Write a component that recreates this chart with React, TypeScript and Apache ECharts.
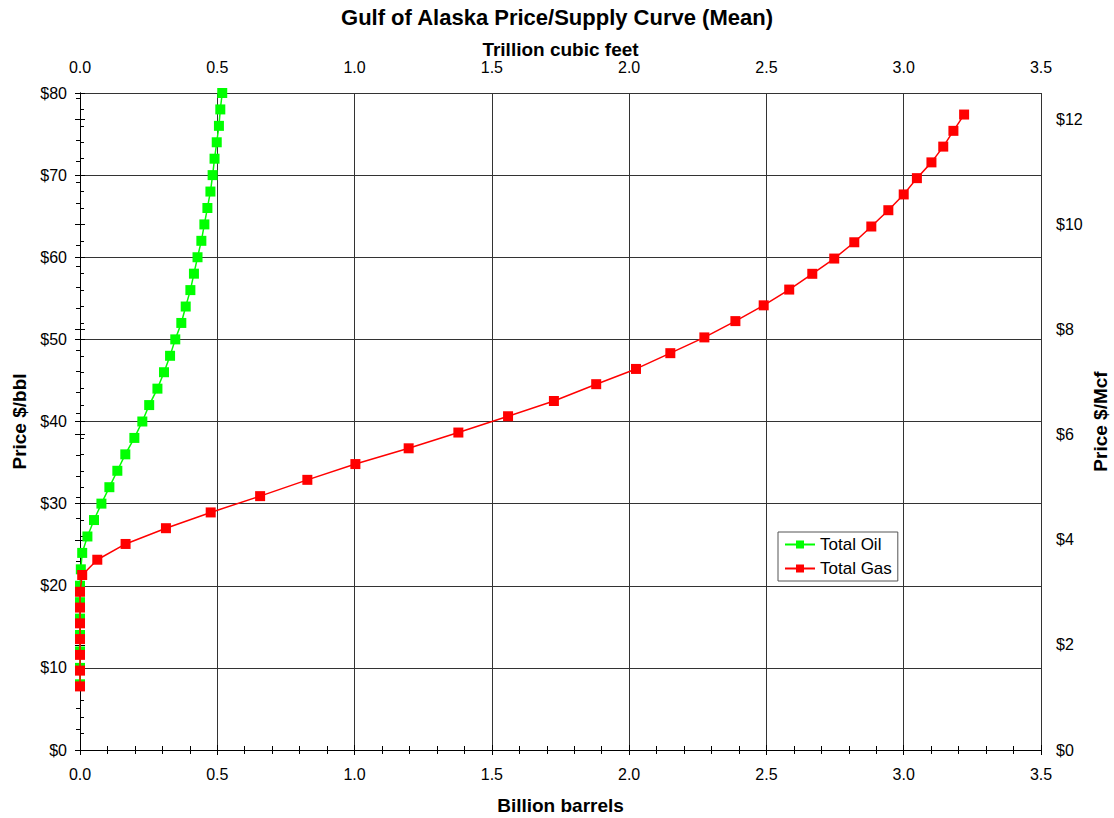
import React, { useEffect, useRef } from "react";
import * as echarts from "echarts";

const oilPrice = [8, 10, 12, 14, 16, 18, 20, 22, 24, 26, 28, 30, 32, 34, 36, 38, 40, 42, 44, 46, 48, 50, 52, 54, 56, 58, 60, 62, 64, 66, 68, 70, 72, 74, 76, 78, 80];
const oilVolume = [0, 0, 0, 0, 0, 0, 0, 0.003, 0.008, 0.027, 0.051, 0.078, 0.107, 0.136, 0.165, 0.198, 0.227, 0.252, 0.282, 0.306, 0.328, 0.347, 0.369, 0.385, 0.402, 0.415, 0.428, 0.442, 0.453, 0.464, 0.475, 0.483, 0.49, 0.498, 0.506, 0.511, 0.518];

const gasPrice = [1.21, 1.51, 1.81, 2.11, 2.41, 2.71, 3.01, 3.33, 3.62, 3.92, 4.22, 4.52, 4.83, 5.14, 5.44, 5.74, 6.04, 6.35, 6.64, 6.96, 7.25, 7.55, 7.85, 8.16, 8.46, 8.76, 9.06, 9.35, 9.66, 9.96, 10.27, 10.57, 10.88, 11.18, 11.48, 11.78, 12.09];
const gasVolume = [0, 0, 0, 0, 0, 0, 0, 0.008, 0.063, 0.166, 0.313, 0.476, 0.656, 0.828, 1.003, 1.197, 1.378, 1.559, 1.726, 1.88, 2.025, 2.15, 2.274, 2.387, 2.49, 2.583, 2.667, 2.747, 2.82, 2.882, 2.944, 3.0, 3.048, 3.101, 3.144, 3.181, 3.22];

const FONT = "Liberation Sans, Arial, sans-serif";

export default function App() {
  const ref = useRef<HTMLDivElement>(null);
  useEffect(() => {
    if (!ref.current) return;
    const chart = echarts.init(ref.current, undefined, { renderer: "svg" });
    const axisLine = { show: true, lineStyle: { color: "#000", width: 1 } };
    const lbl = { color: "#000", fontSize: 16, fontFamily: FONT };
    const nameStyle = { color: "#000", fontSize: 19, fontWeight: "bold" as const, fontFamily: FONT };
    const xCommon = {
      type: "value" as const,
      min: 0,
      max: 3.5,
      interval: 0.5,
      axisLine,
      axisTick: { show: true, inside: true, length: 5, lineStyle: { color: "#000" } },
      minorTick: { show: true, splitNumber: 5, length: 4, lineStyle: { color: "#000" } },
      nameLocation: "middle" as const,
      nameMoveOverlap: false,
      nameTextStyle: nameStyle,
    };
    const overlayTick = {
      axisLine: { show: false },
      axisTick: { show: true, inside: false, length: 5, lineStyle: { color: "#000" } },
      axisLabel: { show: false },
      splitLine: { show: false },
    };
    chart.setOption({
      animation: false,
      backgroundColor: "#fff",
      title: {
        text: "Gulf of Alaska Price/Supply Curve (Mean)",
        left: "center",
        top: 1,
        textStyle: { fontSize: 22, fontWeight: "bold", fontFamily: FONT, color: "#000" },
      },
      grid: { left: 80, right: 73, top: 93, bottom: 68, containLabel: false, outerBoundsMode: "none" },
      legend: {
        orient: "vertical",
        left: 778,
        top: 532,
        padding: [4, 6, 4, 6],
        itemGap: 7,
        itemWidth: 30,
        itemHeight: 10,
        backgroundColor: "#fff",
        borderColor: "#555",
        borderWidth: 1,
        borderRadius: 0,
        textStyle: { fontSize: 17, fontFamily: FONT, color: "#000" },
        data: ["Total Oil", "Total Gas"],
      },
      xAxis: [
        {
          ...xCommon,
          position: "bottom",
          name: "Billion barrels",
          nameGap: 46,
          axisLabel: { ...lbl, margin: 16, formatter: (v: number) => v.toFixed(1) },
          splitLine: { show: true, lineStyle: { color: "#333", width: 1 } },
        },
        {
          ...xCommon,
          position: "top",
          name: "Trillion cubic feet",
          nameGap: 34,
          axisLabel: { ...lbl, margin: 18, formatter: (v: number) => v.toFixed(1) },
          splitLine: { show: false },
        },
        { type: "value", min: 0, max: 3.5, interval: 0.5, position: "bottom", ...overlayTick },
        { type: "value", min: 0, max: 3.5, interval: 0.5, position: "top", ...overlayTick },
      ],
      yAxis: [
        {
          type: "value",
          position: "left",
          min: 0,
          max: 80,
          interval: 10,
          axisLine,
          axisTick: { show: true, inside: true, length: 5, lineStyle: { color: "#000" } },
          minorTick: { show: true, splitNumber: 5, length: 4, lineStyle: { color: "#000" } },
          axisLabel: { ...lbl, margin: 13, formatter: (v: number) => "$" + v },
          splitLine: { show: true, lineStyle: { color: "#333", width: 1 } },
          name: "Price $/bbl",
          nameLocation: "middle",
          nameMoveOverlap: false,
          nameGap: 51,
          nameTextStyle: nameStyle,
        },
        {
          type: "value",
          position: "right",
          min: 0,
          max: 12.5,
          interval: 2,
          axisLine,
          axisTick: { show: true, inside: true, length: 5, lineStyle: { color: "#000" } },
          minorTick: { show: true, splitNumber: 5, length: 4, lineStyle: { color: "#000" } },
          axisLabel: {
            ...lbl,
            margin: 15,
            showMaxLabel: false,
            formatter: (v: number) => (Math.abs(v % 2) < 1e-9 ? "$" + v : ""),
          },
          splitLine: { show: false },
          name: "Price $/Mcf",
          nameLocation: "middle",
          nameMoveOverlap: false,
          nameGap: 50,
          nameTextStyle: nameStyle,
        },
        { type: "value", min: 0, max: 80, interval: 10, position: "left", ...overlayTick },
        {
          type: "value",
          min: 0,
          max: 12.5,
          interval: 2,
          position: "right",
          ...overlayTick,
          axisTick: {
            show: true,
            inside: false,
            length: 5,
            lineStyle: { color: "#000" },
            interval: (i: number, v: any) => Number(v) % 2 === 0,
          },
        },
      ],
      series: [
        {
          name: "Total Oil",
          type: "line",
          xAxisIndex: 0,
          yAxisIndex: 0,
          data: oilVolume.map((v, i) => [v, oilPrice[i]]),
          symbol: "rect",
          symbolSize: 10,
          color: "#00ff00",
          lineStyle: { width: 1.5, color: "#00ff00" },
          itemStyle: { color: "#00ff00" },
          z: 3,
        },
        {
          name: "Total Gas",
          type: "line",
          xAxisIndex: 1,
          yAxisIndex: 1,
          data: gasVolume.map((v, i) => [v, gasPrice[i]]),
          symbol: "rect",
          symbolSize: 10,
          color: "#ff0000",
          lineStyle: { width: 1.5, color: "#ff0000" },
          itemStyle: { color: "#ff0000" },
          z: 4,
        },
      ],
    });
    return () => chart.dispose();
  }, []);
  return (
    <div
      ref={ref}
      style={{ position: "absolute", left: 0, top: 0, width: 1114, height: 818 }}
    />
  );
}
